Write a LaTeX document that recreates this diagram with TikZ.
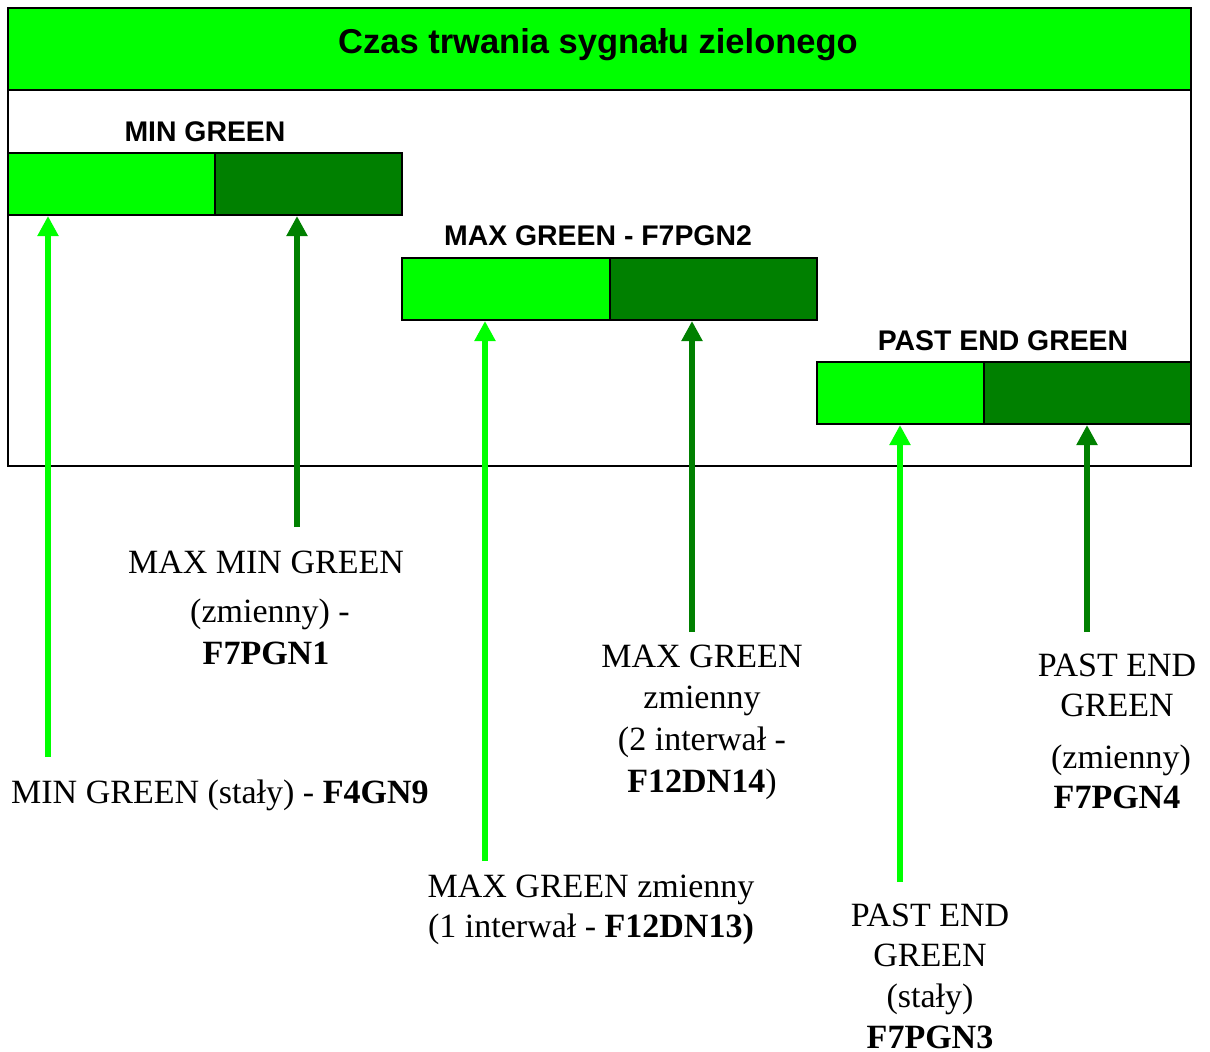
\documentclass[tikz,border=0pt]{standalone}
\usepackage{fontspec}
\setmainfont{Liberation Serif}
\newfontfamily\arialf{Liberation Sans}
\usetikzlibrary{arrows.meta}
\definecolor{lgreen}{RGB}{0,255,0}
\definecolor{dgreen}{RGB}{0,128,0}
\tikzset{
  halfbar/.style={draw=black,line width=2pt,inner sep=0pt,anchor=north west,minimum height=62pt},
  lbar/.style={halfbar,fill=lgreen},
  dbar/.style={halfbar,fill=dgreen},
  barlabel/.style={font=\arialf\bfseries\fontsize{28.4}{32}\selectfont,anchor=base,inner sep=0pt},
  txt/.style={font=\fontsize{34}{40}\selectfont,anchor=base,inner sep=0pt},
  arr/.style={line width=6.5pt,-{Triangle[width=20pt,length=20pt]}},
  larr/.style={arr,draw=lgreen},
  darr/.style={arr,draw=dgreen}
}
\begin{document}
\begin{tikzpicture}[x=1pt,y=-1pt]
\useasboundingbox (0,0) rectangle (1210,1052);
% frame and title band
\node[draw=black,line width=2pt,fill=white,inner sep=0pt,anchor=north west,minimum width=1183pt,minimum height=458pt] (frame) at (7,7) {};
\node[draw=black,line width=2pt,fill=lgreen,inner sep=0pt,anchor=north west,minimum width=1183pt,minimum height=82pt] (band) at (7,7) {};
\node[font=\arialf\bfseries\fontsize{34.5}{40}\selectfont,anchor=base,inner sep=0pt] (title) at (598,53) {Czas trwania sygnału zielonego};
% bars
\node[lbar,minimum width=207pt] (b1l) at (7,152) {};
\node[dbar,minimum width=187pt] (b1d) at (214,152) {};
\node[lbar,minimum width=208pt] (b2l) at (401,257) {};
\node[dbar,minimum width=207pt] (b2d) at (609,257) {};
\node[lbar,minimum width=167pt] (b3l) at (816,361) {};
\node[dbar,minimum width=207pt] (b3d) at (983,361) {};
% bar labels
\node[barlabel] (lab1) at (205,141) {MIN GREEN};
\node[barlabel] (lab2) at (598,245) {MAX GREEN - F7PGN2};
\node[barlabel] (lab3) at (1003,350) {PAST END GREEN};
% arrow start coordinates
\coordinate (s1) at (48,757);
\coordinate (s2) at (297,527);
\coordinate (s3) at (485,861);
\coordinate (s4) at (692,632);
\coordinate (s5) at (900,882);
\coordinate (s6) at (1087,632);
\draw[larr] (s1) -- (s1 |- b1l.south);
\draw[darr] (s2) -- (s2 |- b1d.south);
\draw[larr] (s3) -- (s3 |- b2l.south);
\draw[darr] (s4) -- (s4 |- b2d.south);
\draw[larr] (s5) -- (s5 |- b3l.south);
\draw[darr] (s6) -- (s6 |- b3d.south);
% texts
\node[txt] (t2a) at (266,573) {MAX MIN GREEN};
\node[txt] (t2b) at (270,622) {(zmienny) -};
\node[txt] (t2c) at (266,664) {\textbf{F7PGN1}};
\node[txt,anchor=base west] (t1) at (11,803) {MIN GREEN (stały) - \textbf{F4GN9}};
\node[txt] (t4a) at (702,667) {MAX GREEN};
\node[txt] (t4b) at (702,708) {zmienny};
\node[txt] (t4c) at (702,750) {(2 interwał -};
\node[txt] (t4d) at (702,792) {\textbf{F12DN14})};
\node[txt] (t3a) at (591,897) {MAX GREEN zmienny};
\node[txt] (t3b) at (591,937) {(1 interwał - \textbf{F12DN13)}};
\node[txt] (t5a) at (930,926) {PAST END};
\node[txt] (t5b) at (930,966) {GREEN};
\node[txt] (t5c) at (930,1007) {(stały)};
\node[txt] (t5d) at (930,1048) {\textbf{F7PGN3}};
\node[txt] (t6a) at (1117,676) {PAST END};
\node[txt] (t6b) at (1117,716) {GREEN};
\node[txt] (t6c) at (1121,768) {(zmienny)};
\node[txt] (t6d) at (1117,808) {\textbf{F7PGN4}};
\end{tikzpicture}
\end{document}
